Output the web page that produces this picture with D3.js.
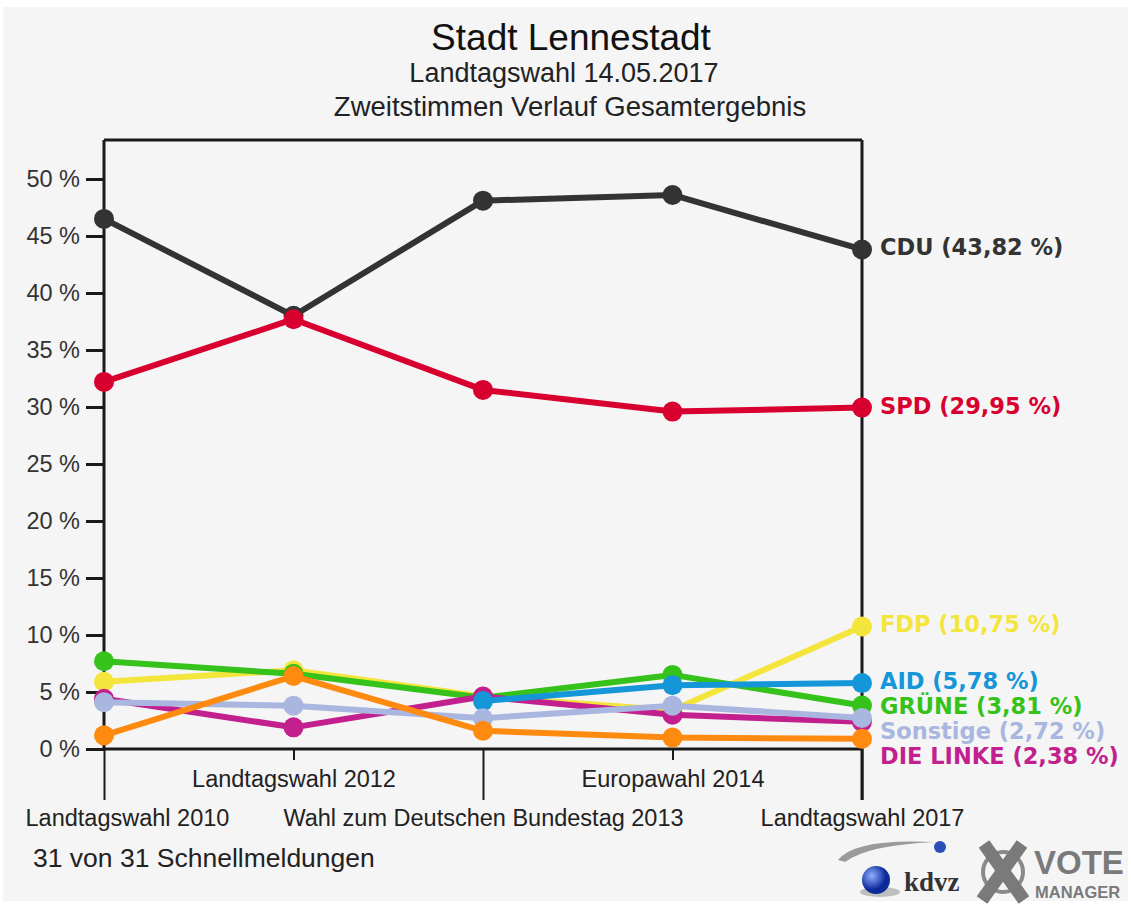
<!DOCTYPE html>
<html><head><meta charset="utf-8">
<script src="https://cdn.jsdelivr.net/npm/d3@7"></script>
<style>
html,body{margin:0;padding:0;background:#fff;}
text{font-family:"Liberation Sans",Arial,sans-serif;}
text.lab{font-family:"DejaVu Sans",Verdana,sans-serif;font-weight:bold;}
text.serif{font-family:"Liberation Serif",serif;}
</style></head>
<body>
<svg id="c" width="1131" height="909"></svg>
<script>
const categories = ["Landtagswahl 2010","Landtagswahl 2012","Wahl zum Deutschen Bundestag 2013","Europawahl 2014","Landtagswahl 2017"];
const yTicks = [0,5,10,15,20,25,30,35,40,45,50];
const seriesNames = ["CDU","SPD","FDP","GRÜNE","DIE LINKE","AID","Sonstige","PIRATEN"];
const seriesColors = ["#333333","#d8002e","#f4e53c","#35c21a","#c21f8f","#1596d8","#a9b6e0","#ff8a10"];
const cdu      = [46.5, 38.0, 48.1, 48.6, 43.82];
const spd      = [32.2, 37.7, 31.5, 29.6, 29.95];
const fdp      = [5.9, 6.9, 4.6, 3.4, 10.75];
const gruene   = [7.7, 6.6, 4.5, 6.5, 3.81];
const linke    = [4.4, 1.9, 4.6, 3.0, 2.38];
const afd      = [null, null, 4.2, 5.6, 5.78];
const sonstige = [4.1, 3.8, 2.7, 3.8, 2.72];
const piraten  = [1.2, 6.4, 1.6, 1.0, 0.9];
const labelled = [true,true,true,true,true,true,true,false];
const seriesValues = [cdu, spd, fdp, gruene, linke, afd, sonstige, piraten];

const svg = d3.select("#c");
svg.append("rect").attr("x",3).attr("y",7).attr("width",1125).attr("height",894).attr("fill","#f5f5f5");

const x = d3.scalePoint().domain(categories).range([104, 862]);
const y = d3.scaleLinear().domain([0,50]).range([749, 179]);

// titles
svg.append("text").attr("x",571).attr("y",50).attr("text-anchor","middle").attr("font-size",37).attr("fill","#111").text("Stadt Lennestadt");
svg.append("text").attr("x",564).attr("y",82).attr("text-anchor","middle").attr("font-size",27).attr("fill","#222").text("Landtagswahl 14.05.2017");
svg.append("text").attr("x",570).attr("y",116).attr("text-anchor","middle").attr("font-size",27.5).attr("fill","#222").text("Zweitstimmen Verlauf Gesamtergebnis");

// frame: top line and right line
svg.append("line").attr("x1",104).attr("x2",862).attr("y1",140).attr("y2",140).attr("stroke","#1a1a1a").attr("stroke-width",3);
svg.append("line").attr("x1",862).attr("x2",862).attr("y1",140).attr("y2",800).attr("stroke","#1a1a1a").attr("stroke-width",3);

// y axis
const yAxis = d3.axisLeft(y).tickValues(yTicks).tickFormat(d => d + " %").tickSize(18).tickPadding(6);
const ya = svg.append("g").attr("transform","translate(104,0)").call(yAxis);
ya.select(".domain").attr("stroke","#1a1a1a").attr("stroke-width",3).attr("d","M0,140V749");
ya.selectAll(".tick line").attr("stroke","#1a1a1a").attr("stroke-width",3);
ya.selectAll(".tick text").attr("font-size",23.5).attr("fill","#333");

// x axis
const xAxis = d3.axisBottom(x).tickSize(0).tickFormat("");
const xa = svg.append("g").attr("transform","translate(0,749)").call(xAxis);
xa.select(".domain").attr("stroke","#1a1a1a").attr("stroke-width",3).attr("d","M104,0H862");
xa.selectAll(".tick line").attr("stroke","#1a1a1a").attr("stroke-width",2)
  .attr("y2",(d,i)=> i%2===0 ? 51 : 11);
xa.selectAll(".tick").append("text")
  .attr("y",(d,i)=> i%2===0 ? 77 : 38)
  .attr("text-anchor","middle").attr("font-size",23.5).attr("fill","#222")
  .text(d=>d)
  .each(function(d){
    const w = this.getComputedTextLength();
    const cx = x(d);
    if (cx - w/2 < 25) d3.select(this).attr("dx", 25 - (cx - w/2));
  });

// lines
const line = d3.line().defined(d=>d.v!=null).x(d=>x(d.c)).y(d=>y(d.v));
const plot = svg.append("g");
seriesNames.forEach((name,si)=>{
  const pts = categories.map((c,i)=>({c, v: seriesValues[si][i]}));
  const g = plot.append("g");
  g.append("path").datum(pts).attr("d",line).attr("fill","none")
    .attr("stroke",seriesColors[si]).attr("stroke-width",6).attr("stroke-linejoin","round");
  g.selectAll("circle").data(pts.filter(d=>d.v!=null)).join("circle")
    .attr("cx",d=>x(d.c)).attr("cy",d=>y(d.v)).attr("r",10).attr("fill",seriesColors[si]);
});

// end labels with collision avoidance
const fmt = v => v.toFixed(2).replace(".",",");
let labs = seriesNames.map((n,i)=>({n, i, v: seriesValues[i][4], yy: y(seriesValues[i][4])})).filter(d=>labelled[d.i]);
labs.sort((a,b)=>a.yy-b.yy);
for(let k=1;k<labs.length;k++){ if(labs[k].yy - labs[k-1].yy < 25) labs[k].yy = labs[k-1].yy + 25; }
svg.selectAll("text.lab").data(labs).join("text").attr("class","lab")
  .attr("x",880).attr("y",d=>d.yy+6).attr("font-size",22.5)
  .attr("fill",d=>seriesColors[d.i]).text(d=>`${d.n} (${fmt(d.v)} %)`);

// footer
svg.append("text").attr("x",33).attr("y",867).attr("font-size",26.5).attr("fill","#222").text("31 von 31 Schnellmeldungen");

// logos
const lg = svg.append("g");
lg.append("path").attr("d","M838,860 Q855,838 935,842 Q868,845 845,862 Z").attr("fill","#9a9a9a");
lg.append("circle").attr("cx",940).attr("cy",847).attr("r",6).attr("fill","#2a4fb8");
const grad = svg.append("defs").append("radialGradient").attr("id","bg").attr("cx","35%").attr("cy","35%");
grad.append("stop").attr("offset","0%").attr("stop-color","#8fb0ff");
grad.append("stop").attr("offset","100%").attr("stop-color","#0d2a9a");
lg.append("ellipse").attr("cx",880).attr("cy",892).attr("rx",20).attr("ry",5).attr("fill","#888").attr("opacity",0.5);
lg.append("circle").attr("cx",876).attr("cy",880).attr("r",14).attr("fill","url(#bg)");
lg.append("text").attr("class","serif").attr("x",904).attr("y",891).attr("font-size",27).attr("font-weight","bold").attr("fill","#333").text("kdvz");
lg.append("circle").attr("cx",1003).attr("cy",872).attr("r",20).attr("fill","none").attr("stroke","#8a8a8a").attr("stroke-width",4);
lg.append("path").attr("d","M984,844 L1024,900 M1022,844 L982,900").attr("stroke","#7a7a7a").attr("stroke-width",13);
lg.append("text").attr("x",1034).attr("y",874).attr("font-size",33).attr("font-weight","bold").attr("fill","#7a7a7a").text("VOTE");
lg.append("text").attr("x",1035).attr("y",898).attr("font-size",16.5).attr("font-weight","bold").attr("fill","#7a7a7a").text("MANAGER");
</script>
</body></html>
